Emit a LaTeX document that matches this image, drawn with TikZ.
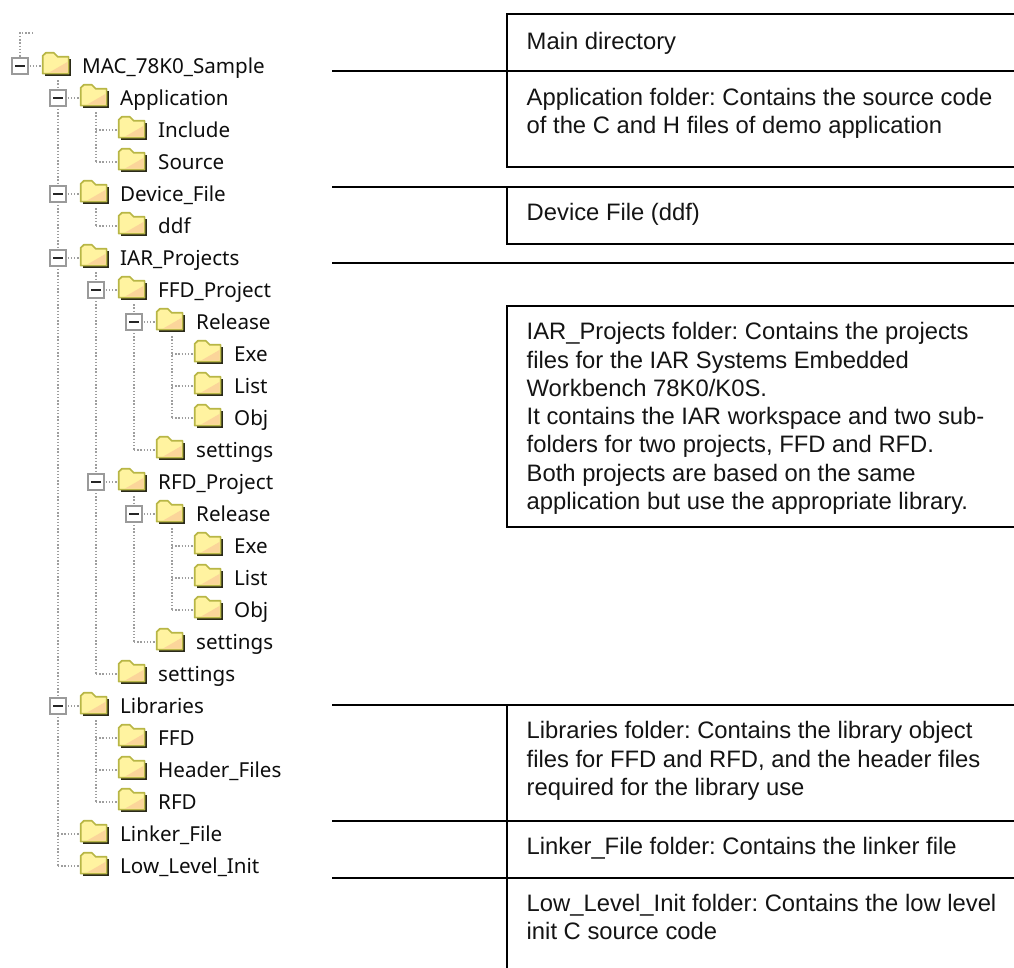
\documentclass[tikz,border=0pt]{standalone}
\usepackage{fontspec}
\setmainfont{Liberation Sans}
\newfontfamily\treefont{Noto Sans}
\usetikzlibrary{backgrounds}
\definecolor{foldbody}{HTML}{FFF3A0}
\definecolor{folddither}{HTML}{FBD59A}
\definecolor{foldedge}{HTML}{B8B646}
\definecolor{foldshadow}{HTML}{2A2A18}
\definecolor{boxedge}{HTML}{9A9A9A}
\tikzset{
  x=1pt,y=-1pt,
  dots/.style={draw=black!38,line width=1.5pt,dash pattern=on 1.4pt off 1.8pt},
  rule/.style={draw=black,line width=1.7pt,line cap=rect},
  foldernode/.style={rectangle,inner sep=0pt,minimum width=29pt,minimum height=24pt},
  expander/.style={rectangle,inner sep=0pt,minimum width=16.5pt,minimum height=16.5pt,
    draw=boxedge,line width=1.9pt,fill=white},
  treelabel/.style={anchor=base west,inner sep=0pt,text=black!95,
    font=\treefont\fontsize{20.6}{24}\selectfont},
  note/.style={anchor=base west,inner sep=0pt,align=left,text=black!92,
    font=\frenchspacing\fontsize{23.8}{28.3}\selectfont},
}
% name, level, row, text: folder, elbow coordinate, label
\newcommand{\treerow}[4]{%
  \pgfmathsetmacro{\rowy}{66+32*#3}%
  \pgfmathsetmacro{\fx}{56.5+38*#2}%
  \pgfmathsetmacro{\ex}{20+38*#2}%
  \pgfmathsetmacro{\tx}{82+38*#2}%
  \node[foldernode] (f-#1) at (\fx,\rowy-2) {};
  \begin{scope}[shift={(f-#1.north west)}]
    \fill[foldshadow] (3,7) rectangle (29,24);
    \path[fill=foldbody,draw=foldedge,line width=1.7pt,line join=round]
      (0.9,21.8)--(0.9,4)--(4,1)--(12,1)--(16,5)--(26.8,5)--(26.8,21.8)--cycle;
    \fill[folddither] (25.9,10)--(25.9,20.9)--(7,20.9)--cycle;
  \end{scope}
  \coordinate (x-#1) at (\ex,\rowy);
  \node[treelabel] (t-#1) at (\tx,\rowy+7) {#4};
}
% name: expander box on the elbow of a row, with its minus sign
\newcommand{\openbox}[1]{%
  \node[expander] (b-#1) at (x-#1) {};
  \draw[black!85,line width=1.9pt] ([xshift=-5pt]b-#1.center) -- ([xshift=5pt]b-#1.center);
}
% name: dotted stub from elbow to folder
\newcommand{\stub}[1]{\draw[dots] (x-#1) -- (x-#1 -| f-#1.west);}
% parent, last child: dotted trunk
\newcommand{\trunk}[2]{\draw[dots] ([yshift=-4pt]x-#2 |- f-#1.south) -- (x-#2);}
\begin{document}
\begin{tikzpicture}
\useasboundingbox (0,0) rectangle (1014,967);
% tree rows
\treerow{root}{0}{0}{MAC\_78K0\_Sample}
\treerow{app}{1}{1}{Application}
\treerow{inc}{2}{2}{Include}
\treerow{src}{2}{3}{Source}
\treerow{dev}{1}{4}{Device\_File}
\treerow{ddf}{2}{5}{ddf}
\treerow{iar}{1}{6}{IAR\_Projects}
\treerow{ffd}{2}{7}{FFD\_Project}
\treerow{rela}{3}{8}{Release}
\treerow{exea}{4}{9}{Exe}
\treerow{lista}{4}{10}{List}
\treerow{obja}{4}{11}{Obj}
\treerow{seta}{3}{12}{settings}
\treerow{rfd}{2}{13}{RFD\_Project}
\treerow{relb}{3}{14}{Release}
\treerow{exeb}{4}{15}{Exe}
\treerow{listb}{4}{16}{List}
\treerow{objb}{4}{17}{Obj}
\treerow{setb}{3}{18}{settings}
\treerow{setc}{2}{19}{settings}
\treerow{lib}{1}{20}{Libraries}
\treerow{lffd}{2}{21}{FFD}
\treerow{hdr}{2}{22}{Header\_Files}
\treerow{lrfd}{2}{23}{RFD}
\treerow{lnk}{1}{24}{Linker\_File}
\treerow{low}{1}{25}{Low\_Level\_Init}
% expanders
\foreach \n in {root,app,dev,iar,ffd,rela,rfd,relb,lib}{\openbox{\n}}
% top stub
\coordinate (stubend) at (33,33);
\coordinate (stubcorner) at (20,33);
% dotted connectors behind everything
\begin{scope}[on background layer]
  \draw[dots] (stubend) -- (stubcorner) -- (x-root);
  \foreach \n in {root,app,inc,src,dev,ddf,iar,ffd,rela,exea,lista,obja,seta,rfd,relb,exeb,listb,objb,setb,setc,lib,lffd,hdr,lrfd,lnk,low}{\stub{\n}}
  \trunk{root}{low}
  \trunk{app}{src}
  \trunk{dev}{ddf}
  \trunk{iar}{setc}
  \trunk{ffd}{seta}
  \trunk{rela}{obja}
  \trunk{rfd}{setb}
  \trunk{relb}{objb}
  \trunk{lib}{lrfd}
\end{scope}
% table rules
\coordinate (L) at (333,0);
\coordinate (M) at (507,0);
\coordinate (R) at (1014,0);
\coordinate (E) at (507,967);
\coordinate (y1) at (0,14);
\coordinate (y2) at (0,71.3);
\coordinate (y3) at (0,167.3);
\coordinate (y4) at (0,187);
\coordinate (y5) at (0,244.3);
\coordinate (y6) at (0,263.3);
\coordinate (y7) at (0,305.8);
\coordinate (y8) at (0,527);
\coordinate (y9) at (0,705);
\coordinate (y10) at (0,820.7);
\coordinate (y11) at (0,878.3);
\draw[rule] (M |- y2) -- (M |- y1) -- (R |- y1);
\draw[rule] (L |- y2) -- (R |- y2);
\draw[rule] (M |- y2) -- (M |- y3) -- (R |- y3);
\draw[rule] (L |- y4) -- (R |- y4);
\draw[rule] (M |- y4) -- (M |- y5) -- (R |- y5);
\draw[rule] (L |- y6) -- (R |- y6);
\draw[rule] (R |- y7) -- (M |- y7) -- (M |- y8) -- (R |- y8);
\draw[rule] (L |- y9) -- (R |- y9);
\draw[rule] (L |- y10) -- (R |- y10);
\draw[rule] (L |- y11) -- (R |- y11);
\draw[rule] (M |- y9) -- (E);
% notes
\node[note] (n1) at (526.5,49.5) {Main directory};
\node[note] (n2) at (526.5,133.5) {Application folder: Contains the source code\\of the C and H files of demo application};
\node[note] (n3) at (526.5,220.5) {Device File (ddf)};
\node[note] (n4) at (526.5,509.5) {IAR\_Projects folder: Contains the projects\\files for the IAR Systems Embedded\\Workbench 78K0/K0S.\\It contains the IAR workspace and two sub-\\folders for two projects, FFD and RFD.\\Both projects are based on the same\\application but use the appropriate library.};
\node[note] (n5) at (526.5,795.5) {Libraries folder: Contains the library object\\files for FFD and RFD, and the header files\\required for the library use};
\node[note] (n6) at (526.5,854.5) {Linker\_File folder: Contains the linker file};
\node[note] (n7) at (526.5,939.5) {Low\_Level\_Init folder: Contains the low level\\init C source code};
\end{tikzpicture}
\end{document}
